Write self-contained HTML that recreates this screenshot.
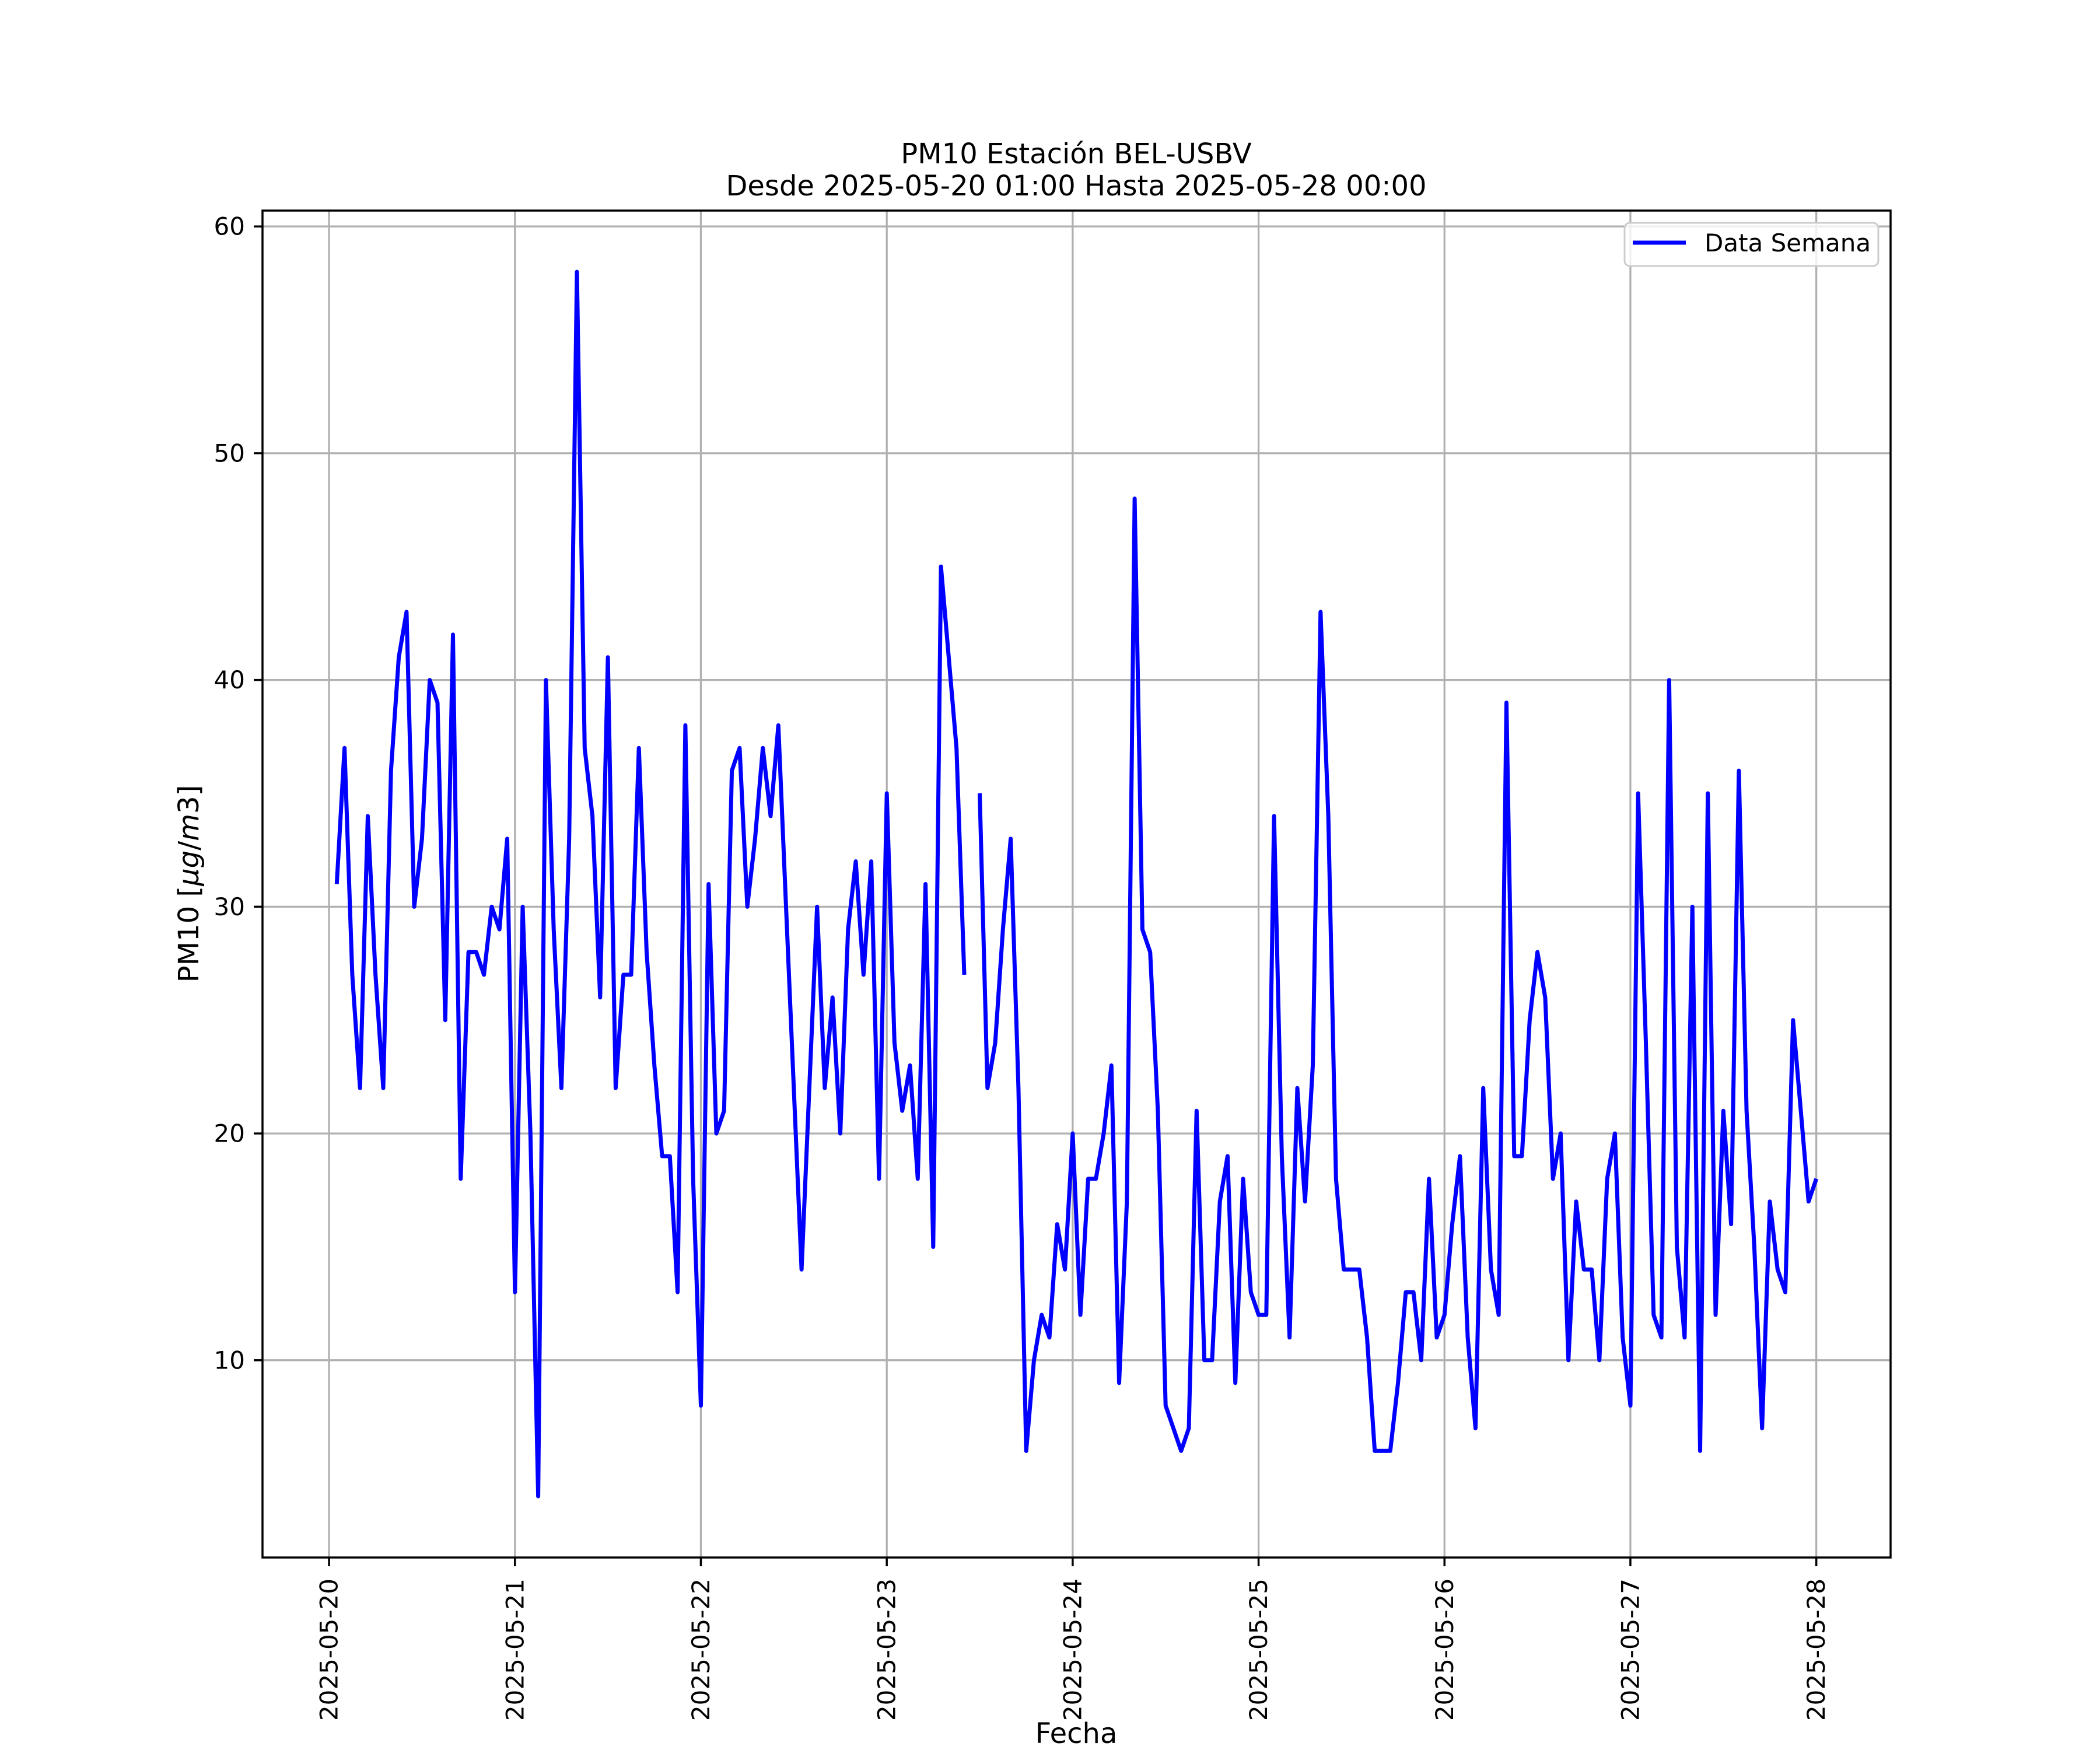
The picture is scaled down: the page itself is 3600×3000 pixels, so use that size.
<!DOCTYPE html>
<html>
<head>
<meta charset="utf-8">
<style>
html,body{margin:0;padding:0;background:#fff;}
svg{display:block;}
text{font-family:"DejaVu Sans","Liberation Sans",sans-serif;fill:#000;}
</style>
</head>
<body>
<svg id="chart" xmlns="http://www.w3.org/2000/svg" width="3600" height="3000" viewBox="0 0 3600 3000">
  <rect x="0" y="0" width="3600" height="3000" fill="#fff"/>
  <g id="grid"></g>
  <g id="series"></g>
  <rect x="450" y="361" width="2791" height="2309" fill="none" stroke="#000" stroke-width="3.5"/>
  <g id="ticks"></g>
  <text x="1845" y="280" font-size="48" text-anchor="middle">PM10 Estación BEL-USBV</text>
  <text x="1845" y="335" font-size="48" text-anchor="middle">Desde 2025-05-20 01:00 Hasta 2025-05-28 00:00</text>
  <text x="1845" y="2988" font-size="48" text-anchor="middle">Fecha</text>
  <text x="0" y="0" font-size="48" text-anchor="middle" transform="translate(340,1515) rotate(-90)">PM10 [<tspan font-style="italic">μg</tspan>/<tspan font-style="italic">m</tspan>3]</text>
  <g>
    <rect x="2785" y="382" width="435" height="74" rx="9" fill="#fff" fill-opacity="0.8" stroke="#cccccc" stroke-width="3"/>
    <line x1="2799" y1="416" x2="2890" y2="416" stroke="#0000ff" stroke-width="7"/>
    <text x="2922" y="431" font-size="42">Data Semana</text>
  </g>
</svg>
<script>
// Data: hourly PM10 from 2025-05-20 01:00 (hour 1) to 2025-05-28 00:00 (hour 192); null = missing
const dayLabels = ["2025-05-20","2025-05-21","2025-05-22","2025-05-23","2025-05-24","2025-05-25","2025-05-26","2025-05-27","2025-05-28"];
const yTicks = [10,20,30,40,50,60];
const day1 = [31,37,27,22,34,27,22,36,41,43,30,33,40,39,25,42,18,28,28,27,30,29,33,13];
const day2 = [30,20,4,40,29,22,33,58,37,34,26,41,22,27,27,37,28,23,19,19,13,38,18,8];
const day3 = [31,20,21,36,37,30,33,37,34,38,30,22,14,22,30,22,26,20,29,32,27,32,18,35];
const day4 = [24,21,23,18,31,15,45,41,37,27,null,35,22,24,29,33,22,6,10,12,11,16,14,20];
const day5 = [12,18,18,20,23,9,17,48,29,28,21,8,7,6,7,21,10,10,17,19,9,18,13,12];
const day6 = [12,34,19,11,22,17,23,43,34,18,14,14,14,11,6,6,6,9,13,13,10,18,11,12];
const day7 = [16,19,11,7,22,14,12,39,19,19,25,28,26,18,20,10,17,14,14,10,18,20,11,8];
const day8 = [35,24,12,11,40,15,11,30,6,35,12,21,16,36,21,15,7,17,14,13,25,21,17,18];
const values = [].concat(day1,day2,day3,day4,day5,day6,day7,day8);

const NS = "http://www.w3.org/2000/svg";
const L = 450, R = 3241, T = 361, B = 2670;
const hMin = -8.59, hMax = 192 + 9.59;   // hours relative to 2025-05-20 00:00
const yMin = 1.3, yMax = 60.7;
function xScale(h){ return L + (h - hMin) / (hMax - hMin) * (R - L); }
function yScale(v){ return B - (v - yMin) / (yMax - yMin) * (B - T); }
function mk(tag, attrs, parent){
  const e = document.createElementNS(NS, tag);
  for (const k in attrs) e.setAttribute(k, attrs[k]);
  parent.appendChild(e);
  return e;
}
const grid = document.getElementById("grid");
const ticks = document.getElementById("ticks");
const series = document.getElementById("series");

dayLabels.forEach((lab, i) => {
  const x = xScale(i * 24);
  const g = mk("line", {x1:x, y1:T, x2:x, y2:B, stroke:"#b0b0b0", "stroke-width":3.3}, grid);
  
  
  const t = mk("line", {x1:x, y1:B, x2:x, y2:B+15, stroke:"#000", "stroke-width":3.5}, ticks);
  
  
  const tx = mk("text", {x:0, y:0, "font-size":42, "text-anchor":"end", "dominant-baseline":"central", transform:"translate(" + x + "," + (B + 36) + ") rotate(-90)"}, ticks);
  
  
  tx.textContent = lab;
});

yTicks.forEach(v => {
  const y = yScale(v);
  const g = mk("line", {x1:L, y1:y, x2:R, y2:y, stroke:"#b0b0b0", "stroke-width":3.3}, grid);
  
  
  const t = mk("line", {x1:L-15, y1:y, x2:L, y2:y, stroke:"#000", "stroke-width":3.5}, ticks);
  
  
  const tx = mk("text", {x:L-30, y:y, "font-size":42, "text-anchor":"end", "dominant-baseline":"central"}, ticks);
  
  
  tx.textContent = String(v);
});

let d = "", pen = false;
values.forEach((v, i) => {
  if (v === null) { pen = false; return; }
  const x = xScale(i + 1), y = yScale(v);
  d += (pen ? "L" : "M") + x.toFixed(1) + "," + y.toFixed(1);
  pen = true;
});
const path = mk("path", {d:d, fill:"none", stroke:"#0000ff", "stroke-width":7, "stroke-linejoin":"round", "stroke-linecap":"butt"}, series);


</script>
</body>
</html>
